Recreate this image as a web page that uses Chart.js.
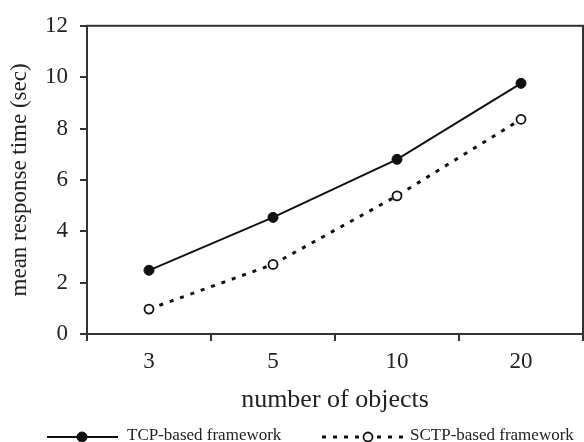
<!DOCTYPE html>
<html>
<head>
<meta charset="utf-8">
<script src="https://cdn.jsdelivr.net/npm/chart.js@4.4.1/dist/chart.umd.min.js"></script>
<style>
    html, body { margin: 0; padding: 0; background: #fff; overflow: hidden; }
    canvas { display: block; }
</style>
</head>
<body>
<canvas id="responseChart" width="584" height="442"></canvas>
<script>
// valores
const objectCounts = ["3", "5", "10", "20"];
const tcpTimes = [2.48, 4.54, 6.80, 9.76];
const sctpTimes = [0.97, 2.71, 5.38, 8.36];
const seriesNames = ["TCP-based framework", "SCTP-based framework"];
const yTicks = [0, 2, 4, 6, 8, 10, 12];

const serif = "'Liberation Serif', 'Times New Roman', serif";
const ink = "#222";

// caja alrededor del area de datos
const boxPlugin = {
    id: "box",
    beforeDatasetsDraw(chart) {
        const { ctx, chartArea: a } = chart;
        ctx.save();
        ctx.strokeStyle = "#333";
        ctx.lineWidth = 2;
        ctx.strokeRect(a.left, a.top, a.right - a.left, a.bottom - a.top);
        ctx.restore();
    }
};

// leyenda abajo: linea + marcador + texto
const legendSpots = [
    { x1: 47, x2: 118, mark: 82, text: 127 },
    { x1: 322, x2: 406, mark: 368, text: 410 }
];
const legendPlugin = {
    id: "bottomLegend",
    afterDraw(chart) {
        const { ctx } = chart;
        const y = 437;
        chart.data.datasets.forEach((ds, i) => {
            const s = legendSpots[i];
            ctx.save();
            ctx.strokeStyle = ds.borderColor;
            ctx.lineWidth = ds.borderWidth;
            ctx.setLineDash(ds.borderDash || []);
            ctx.beginPath();
            ctx.moveTo(s.x1, y);
            ctx.lineTo(s.x2, y);
            ctx.stroke();
            ctx.setLineDash([]);
            ctx.beginPath();
            ctx.arc(s.mark, y, ds.pointRadius, 0, Math.PI * 2);
            ctx.fillStyle = ds.pointBackgroundColor;
            ctx.fill();
            ctx.lineWidth = ds.pointBorderWidth;
            ctx.strokeStyle = ds.pointBorderColor;
            ctx.stroke();
            ctx.fillStyle = ink;
            ctx.font = "17px " + serif;
            ctx.textBaseline = "middle";
            ctx.fillText(ds.label, s.text, y - 1);
            ctx.restore();
        });
    }
};

document.addEventListener("DOMContentLoaded", () => {
    const ctx = document.getElementById("responseChart").getContext("2d");
    new Chart(ctx, {
        type: "line",
        data: {
            labels: objectCounts,
            datasets: [{
                label: seriesNames[0],
                data: tcpTimes,
                borderColor: "#111",
                borderWidth: 2,
                pointRadius: 5,
                pointBackgroundColor: "#111",
                pointBorderColor: "#111",
                pointBorderWidth: 1,
                tension: 0,
            }, {
                label: seriesNames[1],
                data: sctpTimes,
                borderColor: "#111",
                borderWidth: 3,
                borderDash: [4, 7],
                pointRadius: 4.5,
                pointBackgroundColor: "#fff",
                pointBorderColor: "#111",
                pointBorderWidth: 1.8,
                tension: 0,
            }],
        },
        options: {
            responsive: false,
            animation: false,
            layout: {
                autoPadding: false,
                padding: { left: 0, right: 1, top: 24, bottom: 0 },
            },
            plugins: {
                legend: { display: false },
                tooltip: { enabled: false },
            },
            scales: {
                x: {
                    type: "category",
                    offset: true,
                    border: { display: false },
                    grid: {
                        offset: true,
                        drawOnChartArea: false,
                        drawTicks: true,
                        tickLength: 7,
                        color: "#333",
                        lineWidth: 2,
                    },
                    ticks: {
                        color: ink,
                        font: { family: serif, size: 23 },
                        padding: 7,
                    },
                    title: {
                        display: true,
                        text: "number of objects",
                        color: ink,
                        font: { family: serif, size: 26 },
                        padding: { top: 0, bottom: 26 },
                    },
                    afterFit(scale) {
                        scale.height = 108;
                    },
                },
                y: {
                    min: 0,
                    max: 12,
                    border: { display: false },
                    grid: {
                        drawOnChartArea: false,
                        drawTicks: true,
                        tickLength: 7,
                        color: "#333",
                        lineWidth: 2,
                    },
                    afterBuildTicks(scale) {
                        scale.ticks = yTicks.map(v => ({ value: v }));
                    },
                    ticks: {
                        color: ink,
                        font: { family: serif, size: 23 },
                        padding: 12,
                    },
                    title: {
                        display: true,
                        text: "mean response time (sec)",
                        color: ink,
                        font: { family: serif, size: 23 },
                        padding: { top: 6, bottom: 0 },
                    },
                    afterFit(scale) { scale.width = 87; },
                },
            },
        },
        plugins: [boxPlugin, legendPlugin],
    });
});
</script>
</body>
</html>
